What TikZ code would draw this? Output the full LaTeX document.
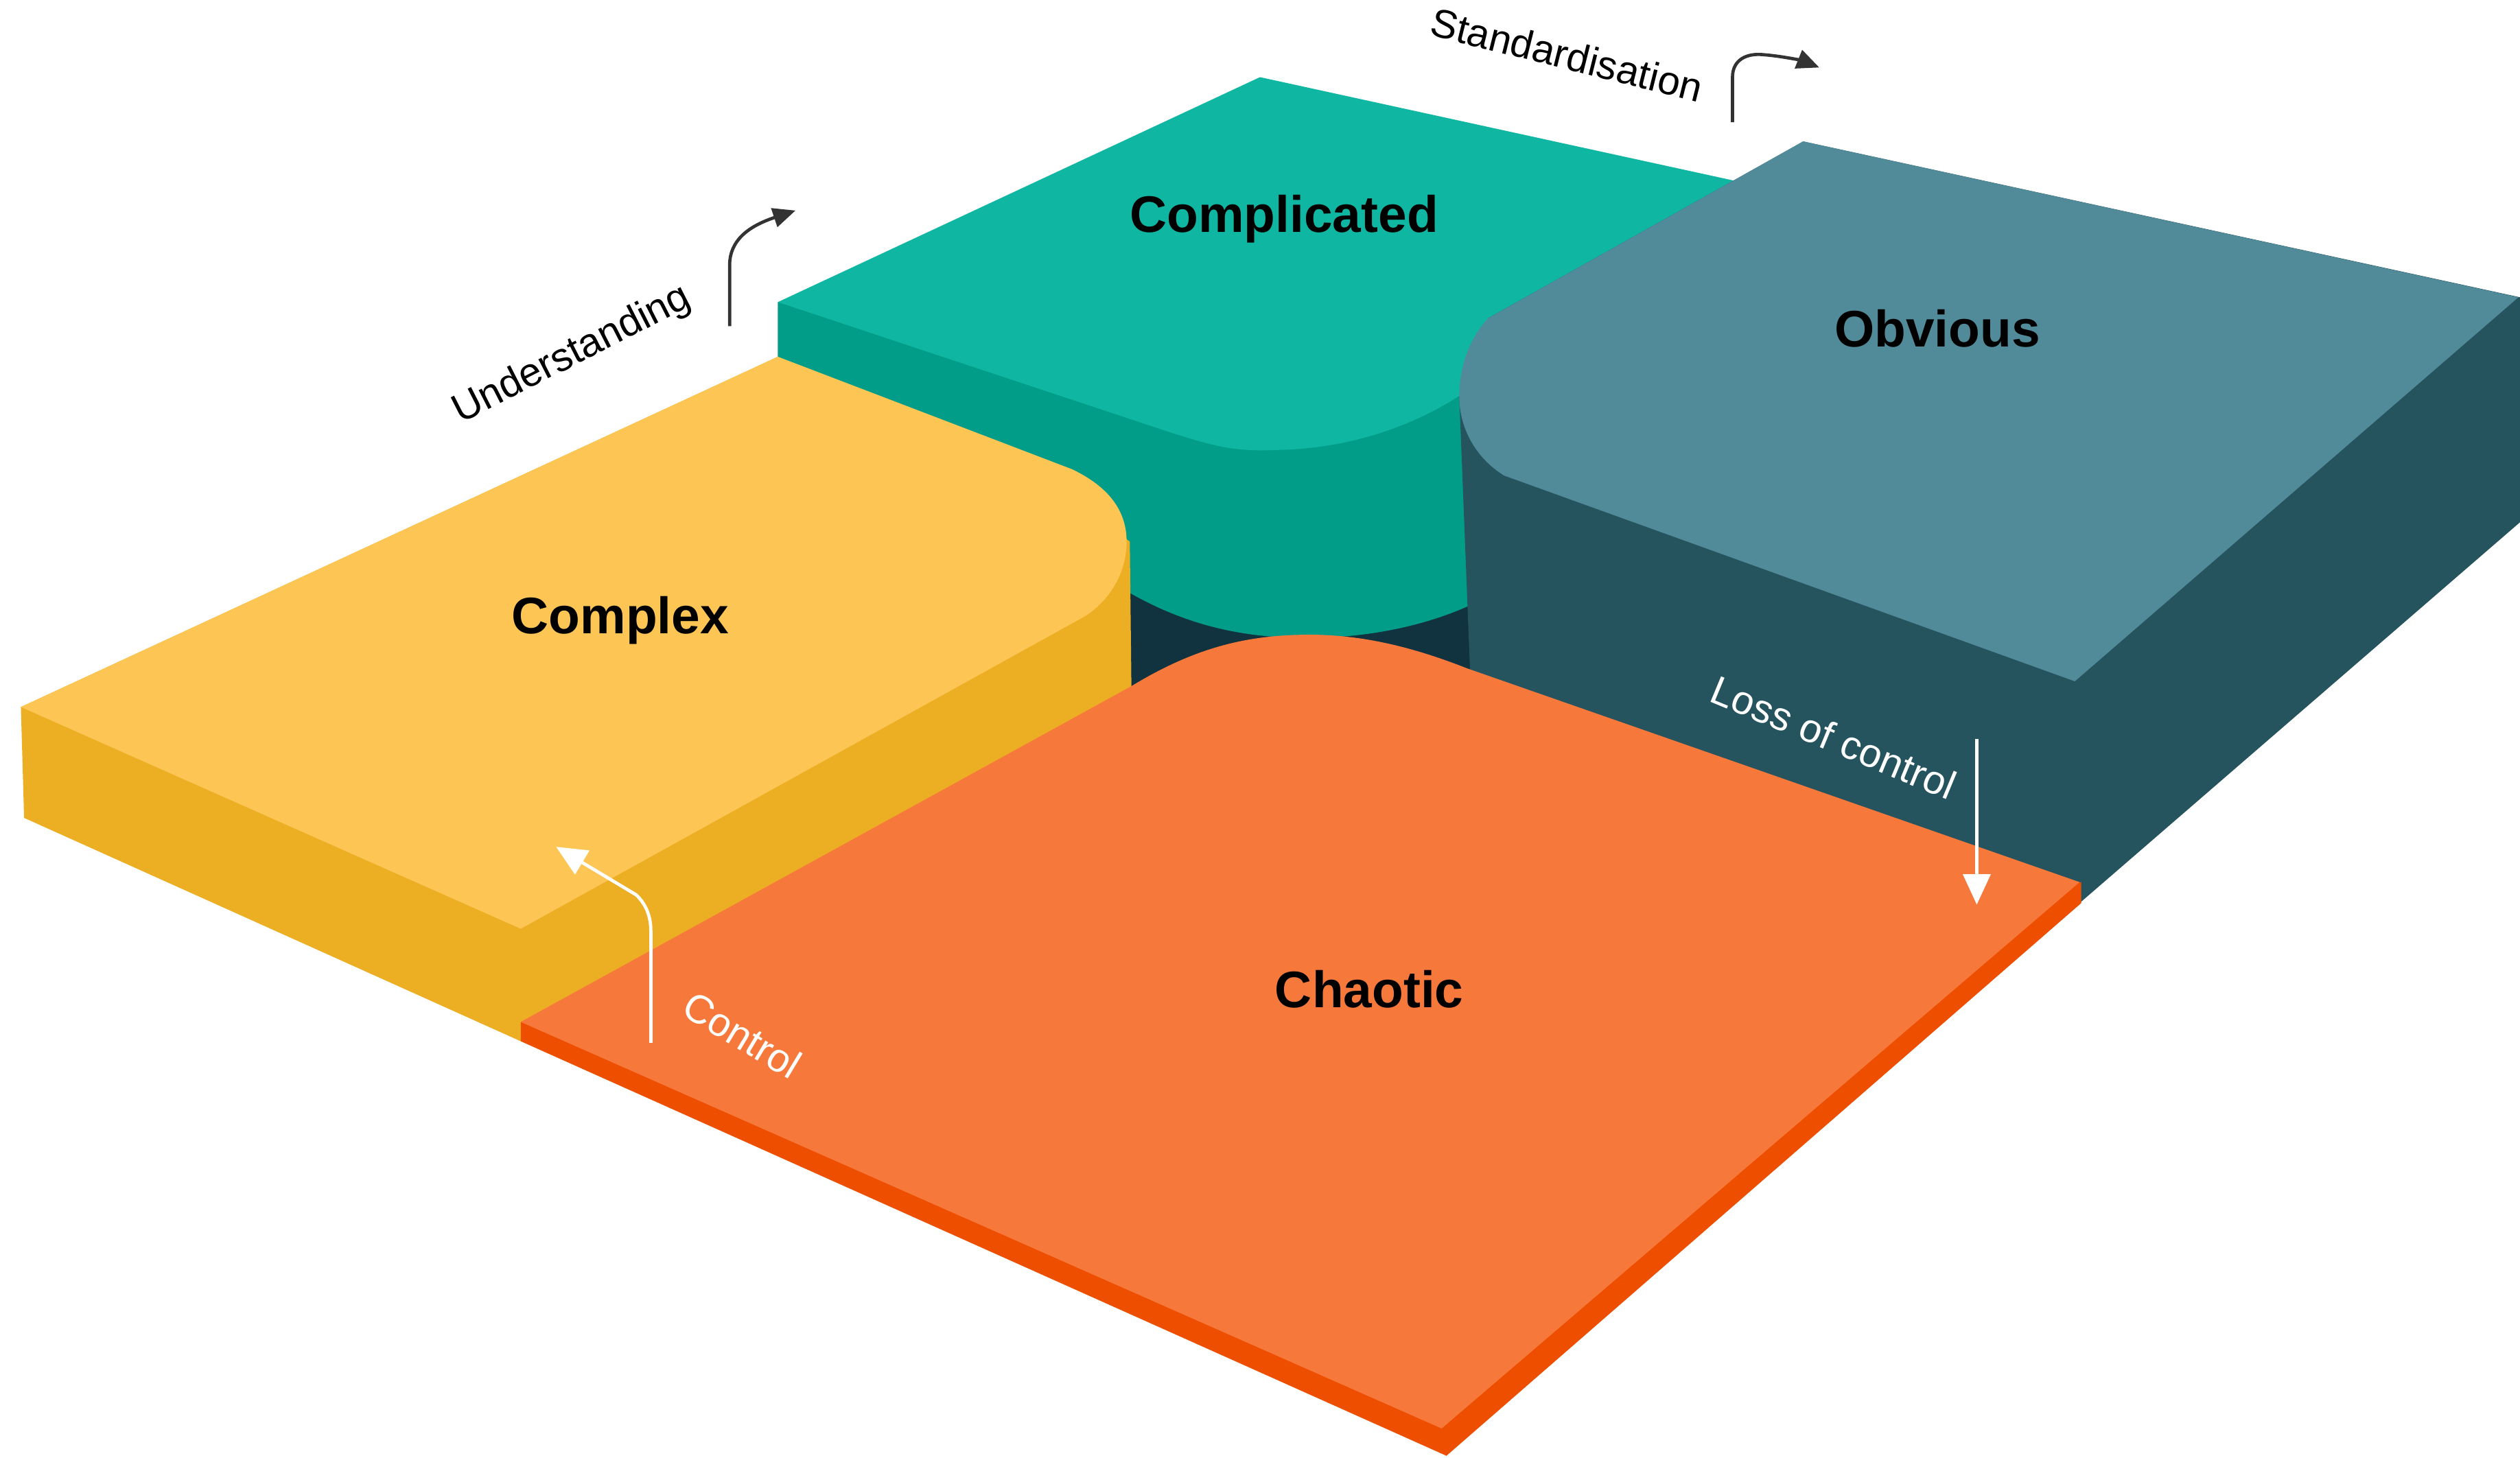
\documentclass[tikz,border=0pt]{standalone}
\usepackage{fontspec}
\setmainfont{Liberation Sans}
\usetikzlibrary{arrows.meta}
\definecolor{ytop}{HTML}{FDC654}
\definecolor{yside}{HTML}{ECAE23}
\definecolor{ttop}{HTML}{0FB7A2}
\definecolor{tside}{HTML}{029D88}
\definecolor{btop}{HTML}{518A99}
\definecolor{bside}{HTML}{25545F}
\definecolor{otop}{HTML}{F6783B}
\definecolor{oside}{HTML}{EE4E00}
\definecolor{gapc}{HTML}{11333F}
\definecolor{arrowgray}{HTML}{333333}
\tikzset{
  blocklabel/.style={font=\fontsize{9.1pt}{11pt}\selectfont\bfseries, text=black, anchor=base, inner sep=0pt},
  flowlabel/.style={font=\fontsize{7.1pt}{8.5pt}\selectfont, inner sep=0pt, anchor=center},
  darkarrow/.style={draw=arrowgray, line width=0.2mm, -{Triangle[length=1.4mm,width=1.2mm]}},
  whitearrow/.style={draw=white, line width=0.2mm, -{Triangle[length=1.9mm,width=1.7mm]}},
}
\begin{document}
\begin{tikzpicture}[x=0.1mm,y=-0.1mm]
\useasboundingbox (0,0) rectangle (1568,907);
% dark floor gap
\fill[gapc] (700,335) -- (916,335) -- (918,432) -- (700,434) -- cycle;
% Complicated block
\fill[tside] (484,188) -- (484,330) -- (703,369) .. controls (740,390) and (775,397) .. (813,397) .. controls (850,397) and (885,390) .. (914,377) -- (914,150) -- cycle;
\fill[ttop] (484,188) -- (784,48) -- (1100,117) -- (910,245) .. controls (880,265) and (840,279) .. (796,280) .. controls (770,281) and (760,279) .. (731,270) -- cycle;
% Complex block
\fill[yside] (13,440) -- (15,509) -- (324,648) -- (704,428) -- (703,337) -- (650,300) -- (484,222) -- cycle;
\fill[ytop] (13,440) -- (484,222) -- (667,292) .. controls (690,303) and (701,318) .. (701,337) .. controls (701,355) and (692,372) .. (676,383) -- (324,578) -- cycle;
% Obvious block
\fill[bside] (908,247) -- (915,425) -- (1294,562) -- (1568,325) -- (1568,185) -- (1122,88) -- (926,198) -- cycle;
\fill[btop] (1122,88) -- (1567,185) -- (1291,424) -- (936,296) .. controls (918,285) and (908,266) .. (908,247) .. controls (908,230) and (913,212) .. (926,198) -- cycle;
% Chaotic plate
\fill[oside] (324,636) -- (324,648) -- (900,906) -- (1295,562) -- (1295,549) -- cycle;
\fill[otop] (324,636) -- (704,427) .. controls (745,402) and (778,395) .. (815,395) .. controls (852,395) and (885,405) .. (913,416) -- (1294,549) -- (897,889) -- cycle;
% labels
\node[blocklabel] (complicated) at (799,144.5) {Complicated};
\node[blocklabel] (obvious) at (1205.5,216) {Obvious};
\node[blocklabel] (complex) at (386,394.5) {Complex};
\node[blocklabel] (chaotic) at (852,627) {Chaotic};
\node[flowlabel, rotate=27] (understanding) at (356,221) {Understanding};
\node[flowlabel, rotate=-14] (standard) at (975,34) {Standardisation};
\node[flowlabel, rotate=-22.5, text=white] (loss) at (1141,459) {Loss of control};
\node[flowlabel, rotate=-31, text=white] (control) at (462,644) {Control};
% arrows
\coordinate (u0) at (454,203); \coordinate (u1) at (454,165); \coordinate (u2) at (495,131);
\draw[darkarrow] (u0) -- (u1) .. controls (454,150) and (465,141) .. (u2);
\coordinate (s0) at (1078,76); \coordinate (s1) at (1078,48); \coordinate (s2) at (1097,34); \coordinate (s3) at (1132,42);
\draw[darkarrow] (s0) -- (s1) .. controls (1078,37) and (1087,33) .. (s2) .. controls (1110,35) and (1122,38) .. (s3);
\coordinate (c0) at (405,649); \coordinate (c1) at (405,580); \coordinate (c2) at (396,557); \coordinate (c3) at (346,527);
\draw[whitearrow] (c0) -- (c1) .. controls (405,570) and (402,563) .. (c2) -- (c3);
\coordinate (l0) at (1230,460); \coordinate (l1) at (1230,563);
\draw[whitearrow] (l0) -- (l1);
\end{tikzpicture}
\end{document}
